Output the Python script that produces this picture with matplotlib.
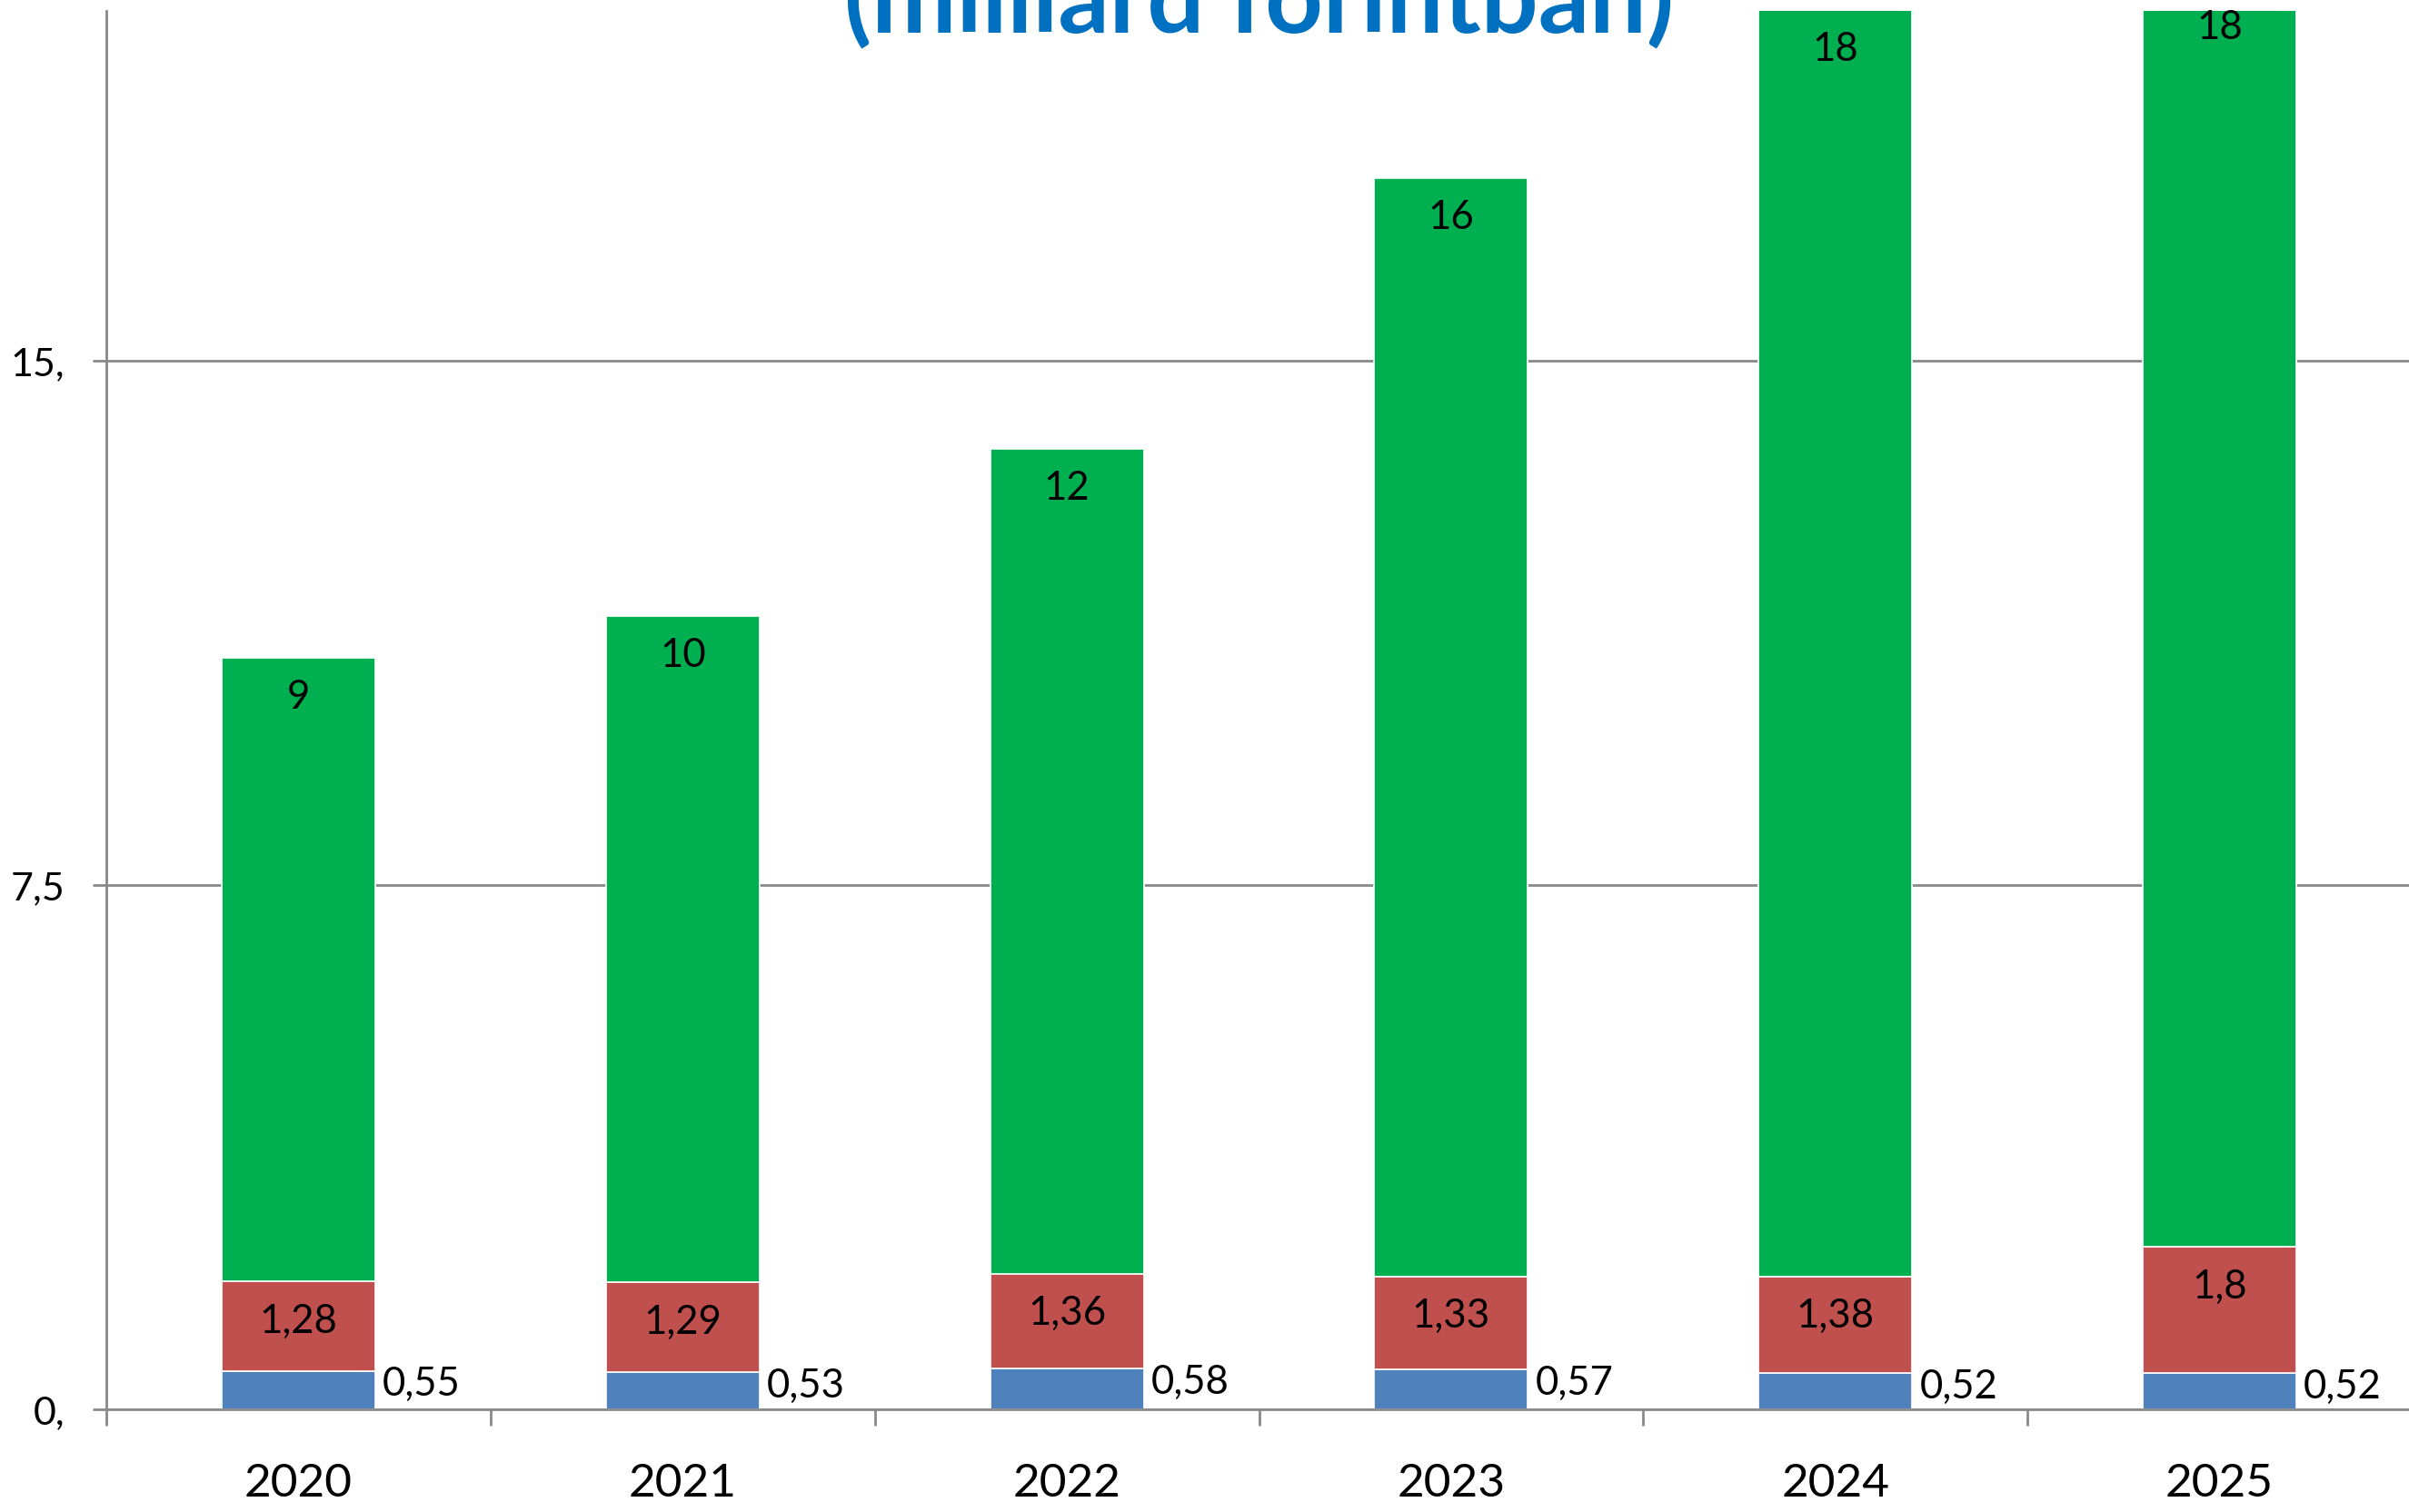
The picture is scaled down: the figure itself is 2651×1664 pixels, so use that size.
# stacked bar chart, yearly amounts (milliárd forint)

import matplotlib
matplotlib.use("Agg")
from matplotlib import pyplot as plt

years = ["2020", "2021", "2022", "2023", "2024", "2025"]
blue_vals = [0.55, 0.53, 0.58, 0.57, 0.52, 0.52]
red_vals = [1.28, 1.29, 1.36, 1.33, 1.38, 1.8]
green_vals = [8.92, 9.53, 11.80, 15.71, 18.12, 18.01]

ytick_vals = [0, 7.5, 15]
ytick_labels = ["0,", "7,5", "15,"]

title = "(milliárd forintban)"

BLUE = "#4F81BD"
RED = "#C0504D"
GREEN = "#00B050"
GRID = "#898989"

plt.rcParams['font.family'] = ['Lato', 'DejaVu Sans']

fig = plt.figure(figsize=(26.51, 16.65), dpi=100)
ax = fig.add_axes([117 / 2651, 113 / 1665, 2537 / 2651, 1539 / 1665])

x = list(range(len(years)))
red_bottom = blue_vals
green_bottom = [b + r for b, r in zip(blue_vals, red_vals)]

kw = dict(width=0.4, edgecolor="white", linewidth=1.2, zorder=3)
bars_b = ax.bar(x, blue_vals, color=BLUE, **kw)
bars_r = ax.bar(x, red_vals, bottom=red_bottom, color=RED, **kw)
bars_g = ax.bar(x, green_vals, bottom=green_bottom, color=GREEN, **kw)


def fmt(v):
    return f"{v:g}".replace(".", ",")


# labels inside end of red and green segments
for bars, vals, f in [(bars_r, red_vals, fmt), (bars_g, green_vals, lambda v: f"{v:.0f}")]:
    for bar, v in zip(bars, vals):
        top = bar.get_y() + bar.get_height()
        ax.annotate(f(v), (bar.get_x() + bar.get_width() / 2, top),
                    xytext=(0, -43), textcoords="offset pixels",
                    ha="center", va="center", fontsize=31.5, color="black",
                    annotation_clip=False, zorder=5)

# blue labels right of the bar
for bar, v in zip(bars_b, blue_vals):
    top = bar.get_y() + bar.get_height()
    ax.annotate(fmt(v), (bar.get_x() + bar.get_width(), top),
                xytext=(8, -14), textcoords="offset pixels",
                ha="left", va="center", fontsize=31.5, color="black", zorder=5)

ax.set_xlim(-0.5, len(years) - 0.5)
ax.set_ylim(0, 20)

ax.set_xticks(x)
ax.set_xticklabels(years, fontsize=37)
ax.set_xticks([i - 0.5 for i in range(len(years) + 1)], minor=True)
ax.tick_params(axis="x", which="major", length=0, pad=42)
ax.tick_params(axis="x", which="minor", length=13, width=2, color=GRID, direction="out")

ax.set_yticks(ytick_vals)
ax.set_yticklabels(ytick_labels, fontsize=31)
ax.tick_params(axis="y", length=11, width=2, color=GRID, direction="out", pad=22)

ax.yaxis.grid(True, color=GRID, linewidth=2, zorder=0)
ax.set_axisbelow(True)

for s in ["top", "right"]:
    ax.spines[s].set_visible(False)
for s in ["left", "bottom"]:
    ax.spines[s].set_color(GRID)
    ax.spines[s].set_linewidth(2)
    ax.spines[s].set_zorder(4)

# title sits partly above the canvas, as in the source image
fig.text((117 + 2654) / 2 / 2651, 1630 / 1665, title, ha="center", va="baseline",
         fontsize=80, fontweight="bold", color="#0070C0")

fig.savefig("out.png", dpi=100)
